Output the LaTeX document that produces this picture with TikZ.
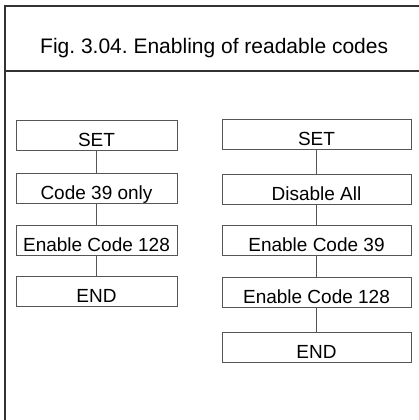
\documentclass[tikz,border=0pt]{standalone}
\usepackage{fontspec}
\setmainfont{Liberation Sans}
\frenchspacing
\definecolor{frame}{HTML}{333333}
\definecolor{boxline}{HTML}{555555}
\begin{document}
\begin{tikzpicture}[x=1pt,y=-1pt,
  stepbox/.style={draw=boxline,line width=1pt,inner sep=0pt,text height=26pt,text depth=4pt,
    font=\fontsize{19}{22}\selectfont,text=black},
  lbox/.style={stepbox,minimum width=161pt},
  rbox/.style={stepbox,minimum width=189pt},
  conn/.style={draw=boxline,line width=1pt},
  framel/.style={draw=frame,line width=2pt}]
\useasboundingbox (0,0) rectangle (419,420);
% frame
\coordinate (tl) at (5,6);
\coordinate (tr) at (419,6);
\coordinate (ml) at (5,70.5);
\coordinate (mr) at (419,70.5);
\coordinate (bl) at (5,420);
\draw[framel] (tr) -- (tl) -- (bl);
\draw[framel] (ml) -- (mr);
\node[anchor=base west,inner sep=0pt,font=\fontsize{21}{24}\selectfont] (title) at (40,53) {Fig. 3.04. Enabling of readable codes};
% left column
\node[lbox] (l1) at (96.5,135) {SET};
\node[lbox] (l2) at (96.5,188.5) {Code 39 only};
\node[lbox] (l3) at (96.5,240) {Enable Code 128};
\node[lbox] (l4) at (96.5,291.5) {END};
% right column
\node[rbox] (r1) at (316.5,134.5) {SET};
\node[rbox] (r2) at (316.5,189) {Disable All};
\node[rbox] (r3) at (316.5,240) {Enable Code 39};
\node[rbox] (r4) at (316.5,292.5) {Enable Code 128};
\node[rbox] (r5) at (316.5,347.5) {END};
\draw[conn] (l1) -- (l2);
\draw[conn] (l2) -- (l3);
\draw[conn] (l3) -- (l4);
\draw[conn] (r1) -- (r2);
\draw[conn] (r2) -- (r3);
\draw[conn] (r3) -- (r4);
\draw[conn] (r4) -- (r5);
\end{tikzpicture}
\end{document}
